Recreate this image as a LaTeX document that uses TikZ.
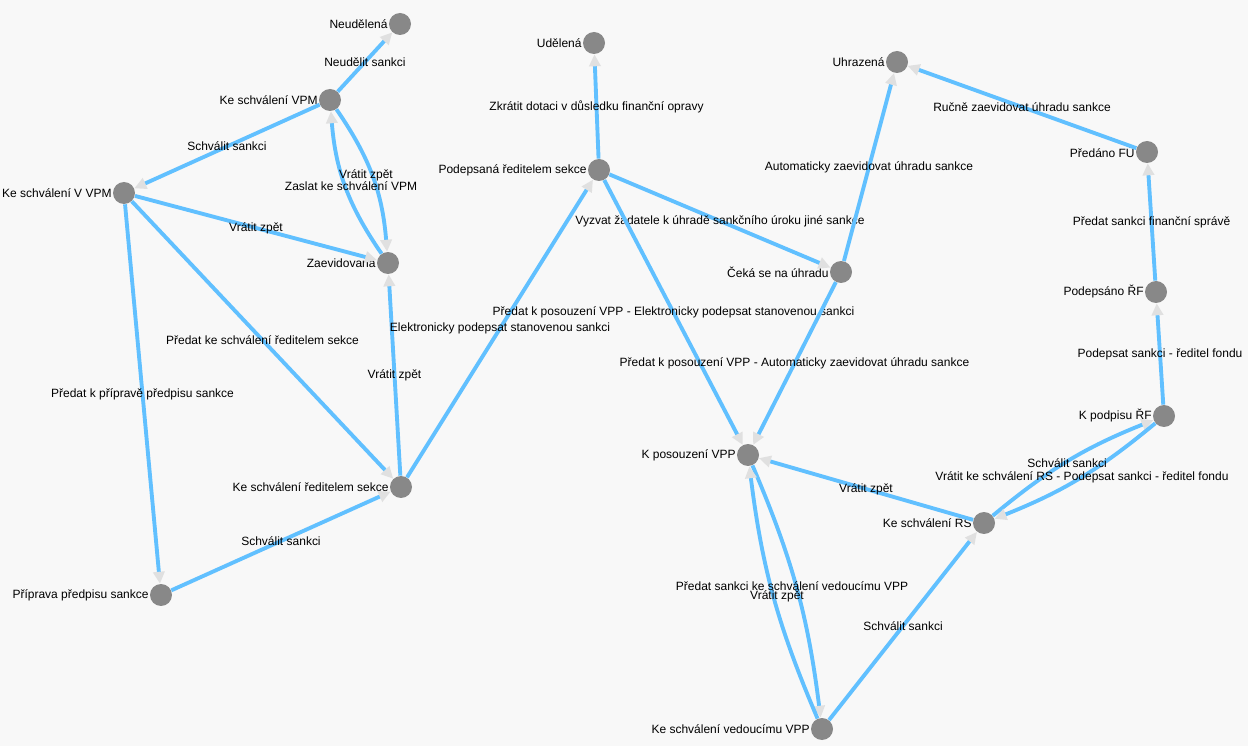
\documentclass[tikz,border=0pt]{standalone}
\usepackage{fontspec}
\setmainfont{Liberation Sans}
\usetikzlibrary{arrows.meta}
\definecolor{flowblue}{RGB}{97,192,255}
\definecolor{tipgray}{RGB}{224,224,224}
\definecolor{stategray}{RGB}{136,136,136}
\definecolor{canvas}{RGB}{248,248,248}

\begin{document}
\begin{tikzpicture}[
  x=0.02cm, y=-0.02cm,
  every node/.style={font=\fontsize{6.83}{8}\selectfont},
  state/.style={circle,fill=stategray,inner sep=0pt,minimum size=0.44cm,label distance=0pt},
  every label/.style={inner sep=0.4pt,text=black},
  lbl/.style={inner sep=0pt,text=black},
  trans/.style={lbl,midway},
  flow/.style={draw=flowblue,line width=2.2pt,-{Triangle[length=6.8pt,width=6.4pt,color=tipgray]}}
]
  \useasboundingbox (0,0) rectangle (1248,746);
  \fill[canvas] (0,0) rectangle (1248,746);

  \node[state, label=left:Neudělená] (neudelena) at (400,24) {};
  \node[state, label=left:Ke schválení VPM] (schvvpm) at (330,100) {};
  \node[state, label=left:Ke schválení V VPM] (schvvvpm) at (124,193) {};
  \node[state, label=left:Zaevidovaná] (zaevidovana) at (388,263) {};
  \node[state, label=left:Ke schválení ředitelem sekce] (schvreditel) at (401,487) {};
  \node[state, label=left:Příprava předpisu sankce] (priprava) at (161,595) {};
  \node[state, label=left:Udělená] (udelena) at (594,43) {};
  \node[state, label=left:Podepsaná ředitelem sekce] (podepsana) at (599,170) {};
  \node[state, label=left:Uhrazená] (uhrazena) at (897,62) {};
  \node[state, label=left:Předáno FÚ] (predano) at (1147,152) {};
  \node[state, label=left:Čeká se na úhradu] (ceka) at (841,272) {};
  \node[state, label=left:Podepsáno ŘF] (podepsano) at (1156,292) {};
  \node[state, label=left:K podpisu ŘF] (podpis) at (1164,416) {};
  \node[state, label=left:K posouzení VPP] (posouzeni) at (748,455) {};
  \node[state, label=left:Ke schválení RS] (schvrs) at (984,523) {};
  \node[state, label=left:Ke schválení vedoucímu VPP] (schvvedouci) at (822,729) {};

  \draw[flow] (schvvpm) -- node[trans] {Neudělit sankci} (neudelena);
  \draw[flow] (schvvpm) -- node[trans] {Schválit sankci} (schvvvpm);
  \draw[flow] (schvvpm) to[bend left=15] (zaevidovana);
  \draw[flow] (zaevidovana) to[bend left=15] (schvvpm);
  \node[lbl] (lzpet1) at (366,175) {Vrátit zpět};
  \node[lbl] (lzaslat) at (351,186) {Zaslat ke schválení VPM};
  \draw[flow] (schvvvpm) -- node[trans] {Vrátit zpět} (zaevidovana);
  \draw[flow] (schvvvpm) -- node[trans] {Předat ke schválení ředitelem sekce} (schvreditel);
  \draw[flow] (schvvvpm) -- node[trans] {Předat k přípravě předpisu sankce} (priprava);
  \draw[flow] (priprava) -- node[trans] {Schválit sankci} (schvreditel);
  \draw[flow] (schvreditel) -- node[trans] {Vrátit zpět} (zaevidovana);
  \draw[flow] (schvreditel) -- node[trans] {Elektronicky podepsat stanovenou sankci} (podepsana);
  \draw[flow] (podepsana) -- node[trans] {Zkrátit dotaci v důsledku finanční opravy} (udelena);
  \draw[flow] (podepsana) -- node[trans] {Vyzvat žadatele k úhradě sankčního úroku jiné sankce} (ceka);
  \draw[flow] (podepsana) -- node[trans] {Předat k posouzení VPP - Elektronicky podepsat stanovenou sankci} (posouzeni);
  \draw[flow] (ceka) -- node[trans] {Automaticky zaevidovat úhradu sankce} (uhrazena);
  \draw[flow] (ceka) -- node[trans] {Předat k posouzení VPP - Automaticky zaevidovat úhradu sankce} (posouzeni);
  \draw[flow] (predano) -- node[trans] {Ručně zaevidovat úhradu sankce} (uhrazena);
  \draw[flow] (podepsano) -- node[trans] {Předat sankci finanční správě} (predano);
  \draw[flow] (podpis) -- node[trans] {Podepsat sankci - ředitel fondu} (podepsano);
  \draw[flow] (schvrs) to[bend left=9] (podpis);
  \draw[flow] (podpis) to[bend left=9] (schvrs);
  \node[lbl] (lschvrs) at (1067,463) {Schválit sankci};
  \node[lbl] (lvratitrs) at (1082,477) {Vrátit ke schválení RS - Podepsat sankci - ředitel fondu};
  \draw[flow] (schvrs) -- node[trans] {Vrátit zpět} (posouzeni);
  \draw[flow] (schvvedouci) -- node[trans] {Schválit sankci} (schvrs);
  \draw[flow] (posouzeni) to[bend left=8] (schvvedouci);
  \draw[flow] (schvvedouci) to[bend left=8] (posouzeni);
  \node[lbl] (lpredat) at (792,586) {Předat sankci ke schválení vedoucímu VPP};
  \node[lbl] (lzpet2) at (777,596) {Vrátit zpět};
\end{tikzpicture}
\end{document}
